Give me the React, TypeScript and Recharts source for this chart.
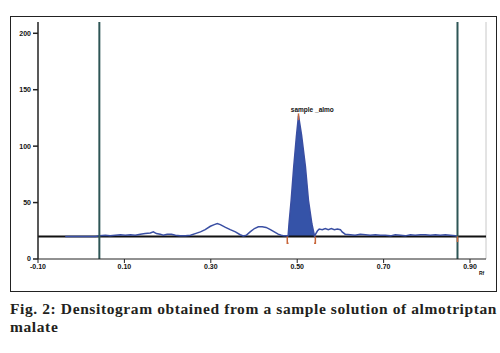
import { ComposedChart, Line, Area, XAxis, YAxis, ReferenceLine, ReferenceDot } from "recharts";

// Rf positions and detector response
const RF = [
  -0.037, -0.014, 0.009, 0.033, 0.042, 0.056, 0.067, 0.079, 0.091, 0.102, 0.114, 0.125, 0.137, 0.148,
  0.16, 0.167, 0.174, 0.183, 0.19, 0.199, 0.209, 0.218, 0.229, 0.241, 0.253, 0.264, 0.276, 0.287, 0.299,
  0.308, 0.315, 0.322, 0.334, 0.345, 0.357, 0.368, 0.375, 0.382, 0.391, 0.401, 0.41, 0.419, 0.428, 0.438,
  0.447, 0.456, 0.463, 0.47, 0.479, 0.481, 0.486, 0.492, 0.498, 0.503, 0.51, 0.519, 0.526, 0.534, 0.54,
  0.547, 0.551, 0.558, 0.565, 0.572, 0.579, 0.586, 0.593, 0.6, 0.604, 0.611, 0.623, 0.634, 0.646, 0.658,
  0.669, 0.681, 0.692, 0.704, 0.716, 0.727, 0.739, 0.75, 0.762, 0.773, 0.785, 0.797, 0.808, 0.82, 0.831,
  0.843, 0.854, 0.866, 0.871,
];
const DENSITY = [
  20, 20, 20, 20, 20.5, 21, 20.5, 21, 21.5, 21, 21.5, 21, 22, 22.5,
  23, 24, 22.5, 22, 21, 22, 22, 21, 20.5, 20.5, 21, 22.5, 24, 26, 29,
  30.5, 31.5, 30.5, 28, 26, 24, 21.5, 20.5, 21, 24, 27, 28.5, 28.5, 28, 26,
  24, 22, 21, 20.5, 20.5, 31, 52, 82, 108, 127, 110, 82, 52, 31, 20.5,
  25, 26.5, 26, 27, 26, 27, 26, 26.5, 26, 24, 22, 21.5, 21, 22, 21.5,
  21, 21.5, 21, 21, 20.5, 21.5, 21, 20.5, 21.5, 21, 21.5, 21.5, 21, 21.5, 21,
  21.5, 21, 20.5, 20,
];
const PEAK_START = 0.479;
const PEAK_END = 0.54;
const BASELINE = 20;
const TRACK_START = 0.042;
const TRACK_END = 0.871;

const Y_TICKS = [0, 50, 100, 150, 200];
const X_TICKS = [-0.1, 0.1, 0.3, 0.5, 0.7, 0.9];

const LEFT_MARK = [
  { rf: 0.477, v: 20 },
  { rf: 0.477, v: 14 },
  { rf: 0.48, v: 14 },
];
const RIGHT_MARK = [
  { rf: 0.542, v: 20 },
  { rf: 0.542, v: 14 },
  { rf: 0.539, v: 14 },
];
const APEX_MARK = [
  { rf: 0.503, v: 123 },
  { rf: 0.503, v: 129 },
];
const END_MARK = [
  { rf: 0.871, v: 20 },
  { rf: 0.871, v: 15 },
];

const data = RF.map((rf, i) => ({
  rf,
  v: DENSITY[i],
  peak: rf >= PEAK_START && rf <= PEAK_END ? [BASELINE, DENSITY[i]] : null,
}));

const tickStyle = { fontSize: 7, fill: "#111", fontFamily: "Liberation Sans, Arial", fontWeight: 700 };
const orange = "#c8663a";

export default function App() {
  return (
    <div style={{ position: "absolute", left: 0, top: 0, width: 500, height: 353, background: "#fff" }}>
      <div
        style={{
          position: "absolute",
          left: 10,
          top: 16,
          width: 485,
          height: 274,
          border: "1.5px solid #222",
        }}
      />
      <div style={{ position: "absolute", left: 0, top: 0 }}>
        <ComposedChart
          width={500}
          height={290}
          data={data}
          margin={{ top: 22, right: 14, left: 8, bottom: 11 }}
        >
          <XAxis
            dataKey="rf"
            type="number"
            domain={[-0.1, 0.937]}
            ticks={X_TICKS}
            tickFormatter={(t) => t.toFixed(2)}
            tick={tickStyle}
            tickSize={4}
            tickMargin={1}
            stroke="#222"
            height={20}
            allowDataOverflow
          />
          <YAxis
            type="number"
            domain={[0, 210]}
            ticks={Y_TICKS}
            tick={tickStyle}
            tickSize={5}
            tickMargin={2}
            stroke="#222"
            strokeWidth={1.5}
            width={30}
            allowDataOverflow
          />
          <ReferenceLine x={0.937} stroke="#c8c8c8" strokeWidth={1} />
          <ReferenceLine y={BASELINE} stroke="#111" strokeWidth={2} />
          <Area
            dataKey="peak"
            type="linear"
            stroke="none"
            fill="#3553a8"
            fillOpacity={1}
            connectNulls={false}
            isAnimationActive={false}
          />
          <Line
            dataKey="v"
            type="linear"
            stroke="#3a4fa3"
            strokeWidth={1.5}
            dot={false}
            isAnimationActive={false}
          />
          <ReferenceLine x={TRACK_START} stroke="#2e5656" strokeWidth={2} />
          <ReferenceLine x={TRACK_END} stroke="#2e5656" strokeWidth={2} />
          {[LEFT_MARK, RIGHT_MARK, APEX_MARK, END_MARK].map((m, i) => (
            <Line
              key={i}
              data={m}
              dataKey="v"
              type="linear"
              stroke={orange}
              strokeWidth={1.5}
              dot={false}
              isAnimationActive={false}
            />
          ))}
          <ReferenceDot
            x={0.535}
            y={127}
            r={0}
            stroke="none"
            label={{ value: "sample _almo", position: "top", offset: 4, fontSize: 6.5, fill: "#111", fontFamily: "Liberation Sans, Arial", fontWeight: 700 }}
          />
        </ComposedChart>
      </div>
      <div
        style={{
          position: "absolute",
          left: 479,
          top: 270,
          fontSize: 5,
          fontFamily: "Liberation Sans, Arial",
          fontWeight: 700,
          color: "#111",
        }}
      >
        Rf
      </div>
      <div
        style={{
          position: "absolute",
          left: 10,
          top: 300,
          fontFamily: "Liberation Serif, Times New Roman, serif",
          fontWeight: 700,
          fontSize: 15.5,
          letterSpacing: 0.6,
          lineHeight: "18px",
          color: "#231f20",
          whiteSpace: "nowrap",
        }}
      >
        Fig. 2: Densitogram obtained from a sample solution of almotriptan
        <br />
        malate
      </div>
    </div>
  );
}
